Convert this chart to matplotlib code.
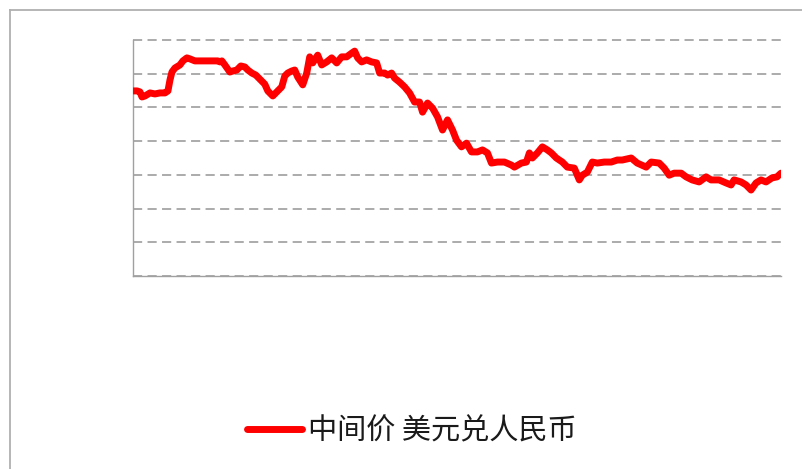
import matplotlib
matplotlib.use("Agg")
import matplotlib.pyplot as plt
from matplotlib.lines import Line2D

plt.rcParams['font.family'] = ['Noto Sans CJK SC', 'DejaVu Sans']

# trading-day index and USD/CNY central parity
days = [0, 4, 7, 9, 12, 17, 22, 27, 32, 35, 37, 39, 42, 47, 50, 54, 57, 62, 67, 77,
        85, 87, 89, 92, 97, 100, 104, 108, 112, 115, 119, 123, 127, 132, 135, 140,
        144, 149, 152, 155, 159, 162, 165, 170, 174, 177, 180, 185, 189, 194, 199,
        204, 209, 214, 219, 222, 225, 229, 234, 239, 244, 247, 252, 255, 259, 262,
        267, 272, 277, 282, 287, 290, 295, 300, 305, 310, 315, 320, 324, 329, 334,
        339, 345, 350, 355, 359, 365, 372, 379, 382, 389, 394, 397, 400, 405, 410,
        415, 419, 424, 430, 435, 442, 447, 450, 455, 460, 465, 472, 479, 485, 490,
        499, 505, 514, 519, 527, 532, 537, 542, 549, 554, 560, 567, 574, 579, 587,
        594, 599, 602, 609, 614, 619, 624, 629, 634, 640, 645, 649]
rate = [6.849, 6.849, 6.846, 6.831, 6.834, 6.843, 6.840, 6.843, 6.843, 6.849, 6.881,
        6.905, 6.917, 6.926, 6.938, 6.947, 6.944, 6.938, 6.938, 6.938, 6.938, 6.935,
        6.938, 6.926, 6.905, 6.908, 6.911, 6.923, 6.920, 6.911, 6.902, 6.896, 6.884,
        6.869, 6.849, 6.834, 6.846, 6.861, 6.893, 6.902, 6.908, 6.911, 6.890, 6.867,
        6.902, 6.950, 6.932, 6.955, 6.926, 6.935, 6.947, 6.932, 6.950, 6.950, 6.961,
        6.967, 6.947, 6.935, 6.941, 6.935, 6.932, 6.902, 6.902, 6.896, 6.902, 6.887,
        6.875, 6.861, 6.843, 6.816, 6.816, 6.786, 6.813, 6.798, 6.772, 6.733, 6.763,
        6.733, 6.703, 6.683, 6.694, 6.668, 6.668, 6.674, 6.665, 6.635, 6.638, 6.638,
        6.629, 6.623, 6.635, 6.638, 6.665, 6.650, 6.665, 6.683, 6.674, 6.665, 6.650,
        6.638, 6.623, 6.620, 6.585, 6.599, 6.608, 6.638, 6.635, 6.638, 6.638, 6.644,
        6.644, 6.650, 6.635, 6.623, 6.638, 6.635, 6.620, 6.599, 6.605, 6.605, 6.594,
        6.585, 6.579, 6.594, 6.585, 6.585, 6.576, 6.570, 6.585, 6.579, 6.570, 6.555,
        6.576, 6.585, 6.579, 6.591, 6.594, 6.605]
grid_ticks = [6.3, 6.4, 6.5, 6.6, 6.7, 6.8, 6.9, 7.0]
label = '中间价 美元兑人民币'

fig = plt.figure(figsize=(8.03, 4.69), dpi=100)
ax = fig.add_axes([133 / 803, 1 - 276 / 469, 648 / 803, 236 / 469])

ax.plot(days, rate, color='#ff0000', lw=5.0, solid_joinstyle='round',
        solid_capstyle='round', label=label, zorder=3)

ax.set_xlim(0, 649)
ax.set_ylim(6.3, 7.0)
ax.set_yticks(grid_ticks)
ax.set_xticks([])
ax.tick_params(axis='y', length=0, labelleft=False)
ax.grid(axis='y', color='#959595', lw=1.1, linestyle=(0, (6, 3.5)))
for gl in ax.get_ygridlines():
    gl.set_clip_on(False)
for side in ['top', 'right']:
    ax.spines[side].set_visible(False)
for side in ['left', 'bottom']:
    ax.spines[side].set_color('#a0a0a0')
    ax.spines[side].set_linewidth(1.0)

# chart-area border (left and top edges only visible)
fig.add_artist(Line2D([10 / 803, 10 / 803], [0, 1 - 10 / 469], color='#b0b0b0', lw=1.3,
                      transform=fig.transFigure))
fig.add_artist(Line2D([10 / 803, 1], [1 - 10 / 469, 1 - 10 / 469], color='#b0b0b0', lw=1.3,
                      transform=fig.transFigure))

fig.legend(loc='center', bbox_to_anchor=(0.513, 1 - 431 / 469), frameon=False,
           fontsize=21, handlelength=1.9, handletextpad=0.2, labelcolor='#1a1a1a')

fig.savefig('out.png', dpi=100)
